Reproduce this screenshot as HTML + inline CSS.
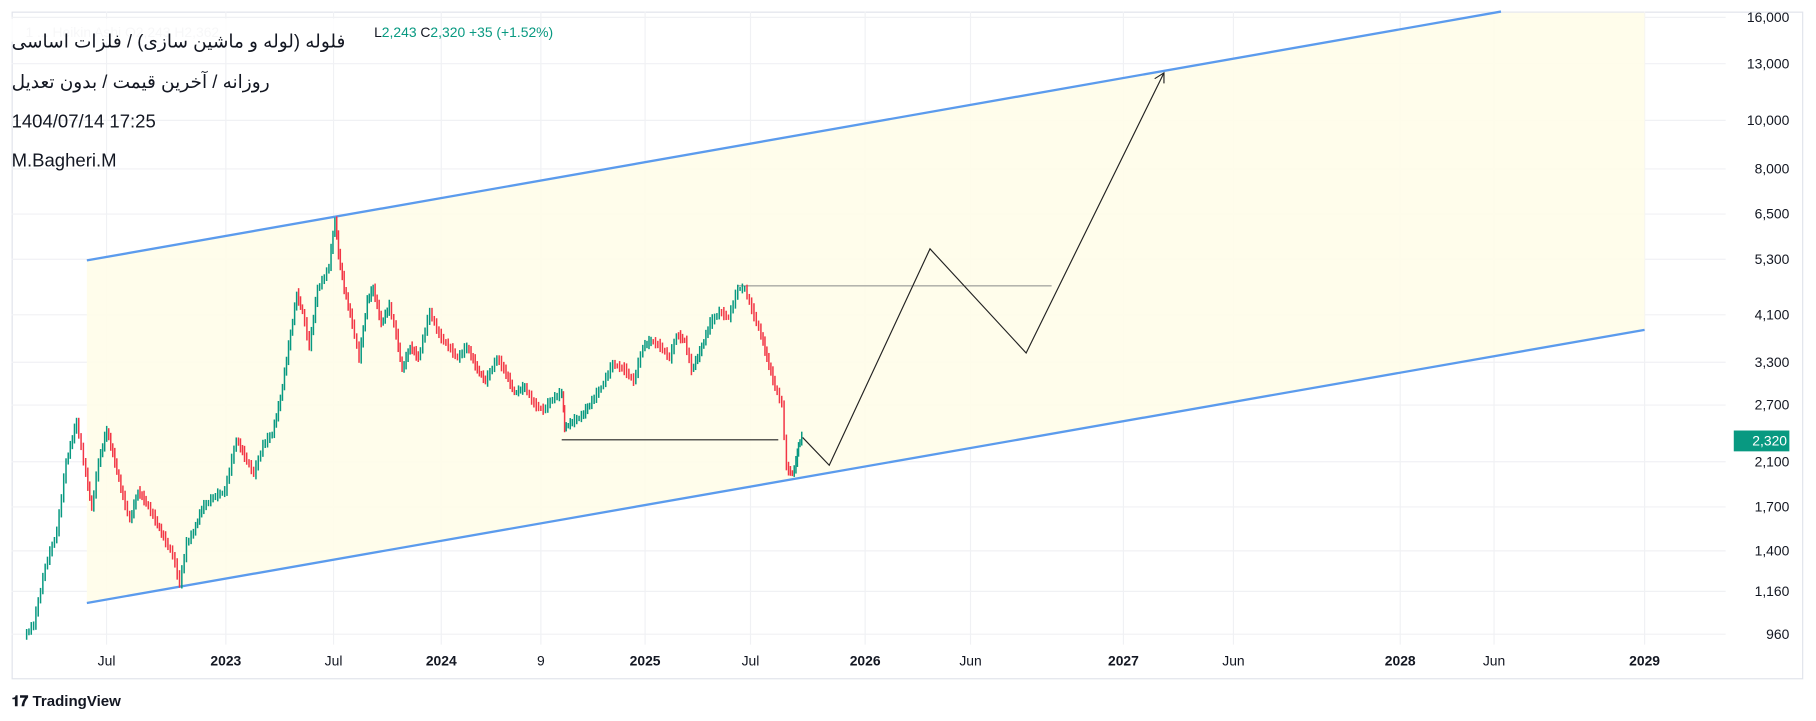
<!DOCTYPE html>
<html><head><meta charset="utf-8"><style>
html,body{margin:0;padding:0;background:#fff;}
svg{display:block;}
text{font-family:"Liberation Sans","Noto Sans CJK SC",sans-serif;}
</style></head><body>
<svg id="s" width="1816" height="721" viewBox="0 0 1568 623" preserveAspectRatio="none" xmlns="http://www.w3.org/2000/svg">
<rect x="0" y="0" width="1568" height="623" fill="#fff"/>
<rect x="10.5" y="10.5" width="1546" height="576" fill="none" stroke="#e0e3eb" stroke-width="1"/>
<g stroke="#f0f1f4" stroke-width="1">
<line x1="10" y1="15" x2="1490" y2="15"/><line x1="10" y1="55" x2="1490" y2="55"/><line x1="10" y1="104" x2="1490" y2="104"/><line x1="10" y1="146" x2="1490" y2="146"/><line x1="10" y1="185" x2="1490" y2="185"/><line x1="10" y1="224" x2="1490" y2="224"/><line x1="10" y1="272" x2="1490" y2="272"/><line x1="10" y1="313" x2="1490" y2="313"/><line x1="10" y1="350" x2="1490" y2="350"/><line x1="10" y1="399" x2="1490" y2="399"/><line x1="10" y1="438" x2="1490" y2="438"/><line x1="10" y1="476" x2="1490" y2="476"/><line x1="10" y1="511" x2="1490" y2="511"/><line x1="10" y1="548" x2="1490" y2="548"/>
<line x1="92" y1="10" x2="92" y2="557"/><line x1="195" y1="10" x2="195" y2="557"/><line x1="288" y1="10" x2="288" y2="557"/><line x1="381" y1="10" x2="381" y2="557"/><line x1="467" y1="10" x2="467" y2="557"/><line x1="557" y1="10" x2="557" y2="557"/><line x1="648" y1="10" x2="648" y2="557"/><line x1="747" y1="10" x2="747" y2="557"/><line x1="838" y1="10" x2="838" y2="557"/><line x1="970" y1="10" x2="970" y2="557"/><line x1="1065" y1="10" x2="1065" y2="557"/><line x1="1209" y1="10" x2="1209" y2="557"/><line x1="1290" y1="10" x2="1290" y2="557"/><line x1="1420" y1="10" x2="1420" y2="557"/>
</g>
<polygon points="75,225 1290,11 1420,11 1420,285 75,521" fill="#fffde9" opacity="0.9"/>
<line x1="75" y1="225" x2="1296" y2="10" stroke="#5b9bed" stroke-width="2"/>
<line x1="75" y1="521" x2="1420" y2="285" stroke="#5b9bed" stroke-width="2"/>
<line x1="637" y1="247" x2="908" y2="247" stroke="#888" stroke-width="0.8"/>
<line x1="485" y1="380" x2="672" y2="380" stroke="#222" stroke-width="1"/>
<polyline points="693,378 716,402 803,215 886,305 1005,63" fill="none" stroke="#222" stroke-width="1"/>
<polyline points="997,68 1005,63 1005,72" fill="none" stroke="#222" stroke-width="1"/>
<g id="series"></g>
<g font-size="12" fill="#131722" text-anchor="end">
<text x="1545" y="19">16,000</text><text x="1545" y="59">13,000</text><text x="1545" y="108">10,000</text><text x="1545" y="150">8,000</text><text x="1545" y="189">6,500</text><text x="1545" y="228">5,300</text><text x="1545" y="276">4,100</text><text x="1545" y="317">3,300</text><text x="1545" y="354">2,700</text><text x="1545" y="403">2,100</text><text x="1545" y="442">1,700</text><text x="1545" y="480">1,400</text><text x="1545" y="515">1,160</text><text x="1545" y="552">960</text>
</g>
<rect x="1497" y="372" width="48" height="18" fill="#089981"/>
<text x="1543" y="385" font-size="12" fill="#fff" text-anchor="end">2,320</text>
<g font-size="12" fill="#131722" text-anchor="middle">
<text x="92" y="575">Jul</text><text x="195" y="575" font-weight="bold">2023</text><text x="288" y="575">Jul</text><text x="381" y="575" font-weight="bold">2024</text><text x="467" y="575">9</text><text x="557" y="575" font-weight="bold">2025</text><text x="648" y="575">Jul</text><text x="747" y="575" font-weight="bold">2026</text><text x="838" y="575">Jun</text><text x="970" y="575" font-weight="bold">2027</text><text x="1065" y="575">Jun</text><text x="1209" y="575" font-weight="bold">2028</text><text x="1290" y="575">Jun</text><text x="1420" y="575" font-weight="bold">2029</text>
</g>
<text x="22" y="32" font-size="12" fill="#c8cad0">1 ... Heikin Ashi O2,243 H2,362</text>
<text x="323" y="32" font-size="12" fill="#089981"><tspan fill="#131722">L</tspan>2,243 <tspan fill="#131722">C</tspan>2,320 +35 (+1.52%)</text>
<rect x="8" y="16" width="303" height="20" fill="#fff" opacity="0.85"/>
<g font-size="16" fill="#131722">
<text x="10" y="41">فلوله (لوله و ماشین سازی) / فلزات اساسی</text>
<text x="10" y="76">روزانه / آخرین قیمت / بدون تعدیل</text>
<text x="10" y="110">1404/07/14 17:25</text>
<text x="10" y="144">M.Bagheri.M</text>
</g>
<text x="10" y="610" font-size="13" font-weight="bold" fill="#131722">𝟏𝟕 TradingView</text>
</svg>
<script>
(function(){
var p=[[22,550],[30,540],[40,490],[50,460],[58,400],[67,365],[75,410],[80,440],[86,400],[93,372],[100,400],[107,430],[113,450],[120,425],[127,435],[135,450],[142,465],[150,480],[156,505],[162,470],[168,460],[175,440],[185,430],[195,425],[205,380],[212,395],[220,410],[228,385],[236,375],[243,345],[250,300],[257,255],[262,270],[268,300],[275,250],[281,240],[285,230],[290,190],[293,220],[298,250],[305,280],[311,310],[318,260],[323,250],[330,280],[337,265],[343,290],[348,320],[355,300],[362,310],[372,270],[380,290],[388,300],[396,310],[404,300],[413,320],[420,330],[430,310],[436,320],[445,340],[454,335],[462,350],[470,355],[478,345],[486,340],[488,370],[495,365],[503,360],[510,350],[520,335],[530,315],[540,320],[548,330],[556,300],[563,295],[571,300],[579,310],[585,290],[592,295],[598,320],[605,305],[614,280],[622,270],[630,275],[638,250],[644,250],[650,268],[658,290],[663,310],[670,335],[676,350],[680,405],[685,410],[688,400],[690,385],[693,378]];
var g=document.getElementById('series'),NS='http://www.w3.org/2000/svg';
for(var i=1;i<p.length;i++){var a=p[i-1],b=p[i];var c=b[1]<=a[1]?'#089981':'#f23645';
var n=Math.max(2,Math.round((b[0]-a[0])/2));
for(var k=0;k<n;k++){var t0=k/n,t1=(k+1)/n;var x=a[0]+(b[0]-a[0])*(t0+t1)/2;var y0=a[1]+(b[1]-a[1])*t0,y1=a[1]+(b[1]-a[1])*t1;
var j=((i*7+k*13)%5)+2;var yt=Math.min(y0,y1)-j,yb=Math.max(y0,y1)+j*0.7;
var l=document.createElementNS(NS,'line');l.setAttribute('x1',x);l.setAttribute('x2',x);l.setAttribute('y1',yt);l.setAttribute('y2',yb);l.setAttribute('stroke',c);l.setAttribute('stroke-width','1.3');g.appendChild(l);}}
})();
</script>
</body></html>
